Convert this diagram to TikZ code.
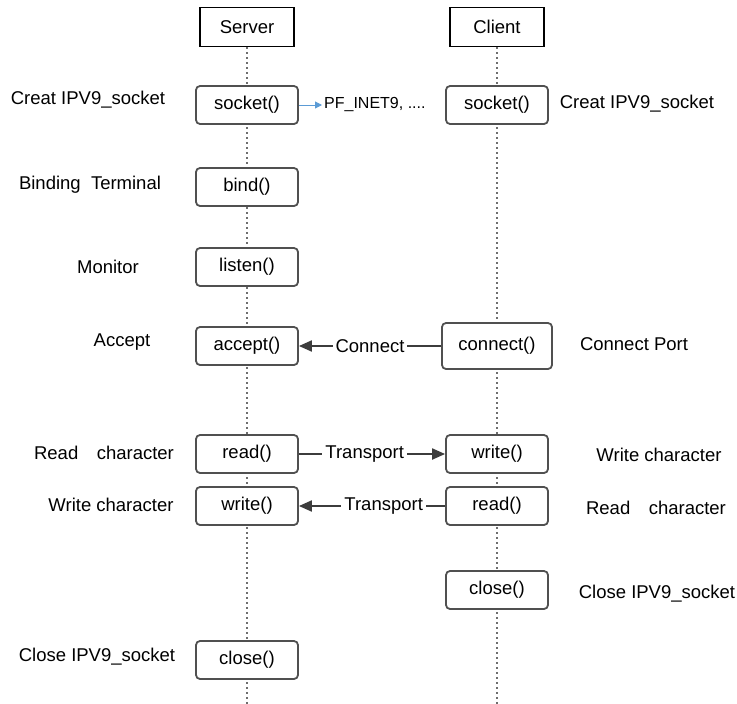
\documentclass[tikz,border=0pt]{standalone}
\usepackage{fontspec}
\setmainfont{Liberation Sans}
\usetikzlibrary{arrows.meta,backgrounds}
\definecolor{boxgray}{RGB}{80,80,80}
\definecolor{arrgray}{RGB}{60,60,60}
\definecolor{linkblue}{RGB}{91,155,213}
\definecolor{dotgray}{RGB}{110,110,110}
\begin{document}
\begin{tikzpicture}[x=1pt, y=-1pt, font=\fontsize{18.5}{20}\selectfont, node distance={250pt},
  head/.style = {draw, line width=1.4pt, minimum width=94pt, minimum height=39pt, fill=white},
  call/.style = {draw=boxgray, line width=1.8pt, rounded corners=4pt, minimum width=102pt, minimum height=38pt, fill=white},
  life/.style = {dotgray, line width=1.6pt, dash pattern=on 2pt off 3pt},
  msg/.style = {arrgray, line width=2pt, -{Triangle[length=13pt,width=11pt]}},
  lbl/.style = {fill=white, inner sep=3pt, text=black}]
    \useasboundingbox (0,0) rectangle (737,704);
    % lifeline heads
    \node[head] (srv) at (247,27) {Server};
    \node[head] (cli) [right of=srv] {Client};
    % calls
    \node[call] (ssock) at (247,105) {socket()};
    \node[call] (csock) [right of=ssock] {socket()};
    \node[call] (bind) at (247,187) {bind()};
    \node[call] (listen) at (247,267) {listen()};
    \node[call] (accept) at (247,346) {accept()};
    \node[call, minimum width=110pt, minimum height=46pt] (conn) [right of=accept] {connect()};
    \node[call] (sread) at (247,454) {read()};
    \node[call] (cwrite) [right of=sread] {write()};
    \node[call] (swrite) at (247,506) {write()};
    \node[call] (cread) [right of=swrite] {read()};
    \node[call] (cclose) at (497,590) {close()};
    \node[call] (sclose) at (247,660) {close()};
    \node[anchor=west, inner sep=2pt, font=\fontsize{16}{18}\selectfont] (pf) at (322,105) {PF\_INET9, ....};
    % lifelines
    \coordinate (send) at (247,704);
    \coordinate (cend) at (497,704);
    \begin{scope}[on background layer]
        \draw[life] (srv) -- (send);
        \draw[life] (cli) -- (cend);
    \end{scope}
    % messages
    \draw[linkblue, line width=1pt, -{Triangle[length=7pt,width=7pt]}] (ssock) -- (pf);
    \draw[msg] (conn) -- node[lbl] {Connect} (accept);
    \draw[msg] (sread) -- node[lbl, pos=0.45] {Transport} (cwrite);
    \draw[msg] (cread) -- node[lbl, pos=0.42] {Transport} (swrite);
    % side notes
    \node (lcreat) at (88,100) {Creat IPV9\_socket};
    \node (lbind) at (90,185) {Binding\ \ Terminal};
    \node (lmon) at (108,267) {Monitor};
    \node (lacc) at (122,342) {Accept};
    \node (lread) at (104,453) {Read\quad character};
    \node (lwrite) at (111,505) {Write character};
    \node (lclose) at (97,657) {Close IPV9\_socket};
    \node (rcreat) at (637,104) {Creat IPV9\_socket};
    \node (rconn) at (634,344) {Connect Port};
    \node (rwrite) at (659,455) {Write character};
    \node (rread) at (656,508) {Read\quad character};
    \node (rclose) at (657,594) {Close IPV9\_socket};
\end{tikzpicture}
\end{document}
